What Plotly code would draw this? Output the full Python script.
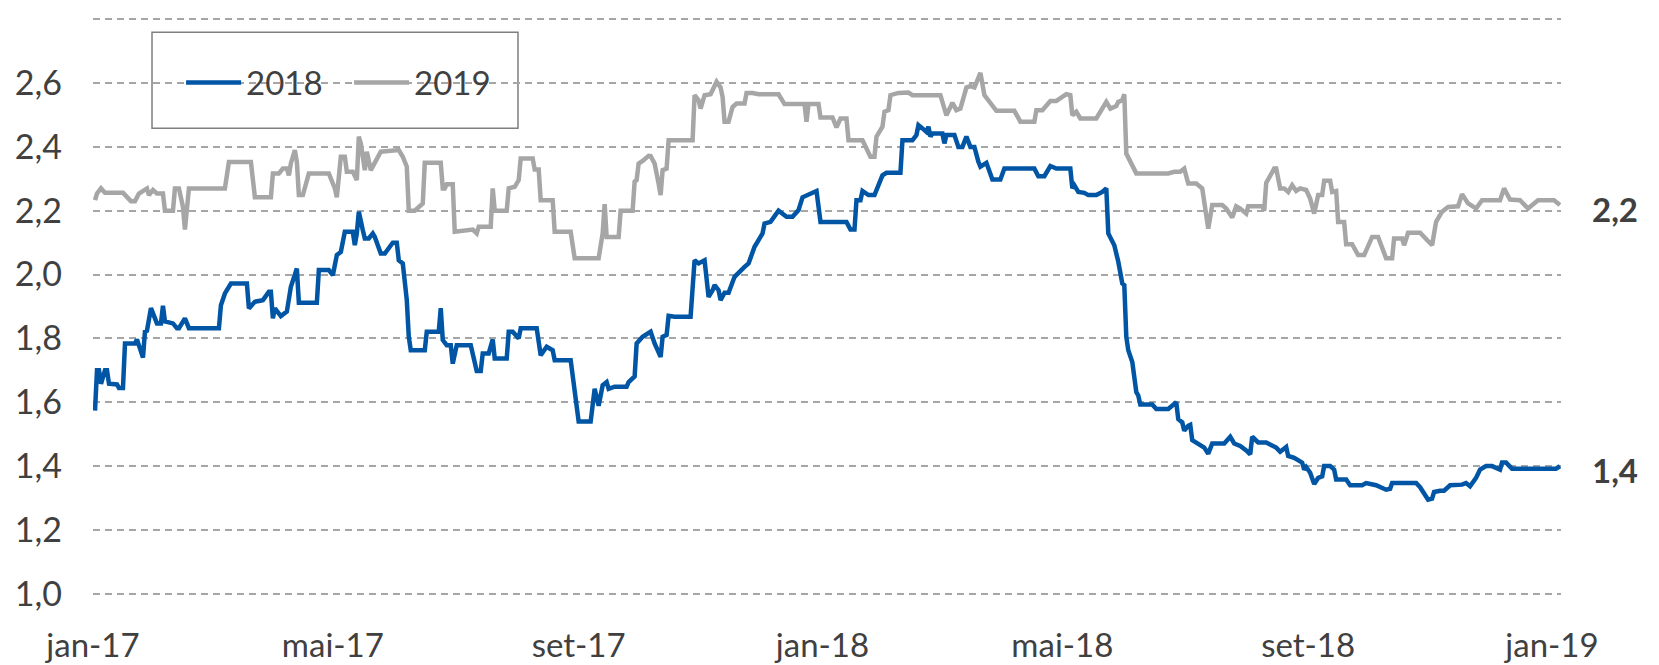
import pandas as pd
import plotly.graph_objects as go

# ---- data (days counted from 2017-01-01) ----
dias_2018 = [1, 2, 3, 4, 6, 7, 8, 12, 13, 15, 16, 21, 22, 24, 25, 26, 27, 29, 31, 32, 34, 35, 36, 40, 42, 43, 46, 48, 63, 64, 66, 69, 77, 78, 81, 85, 88, 89, 90, 91, 94, 97, 99, 102, 103, 112, 113, 118, 120, 121, 122, 124, 125, 126, 130, 131, 132, 133, 135, 136, 138, 140, 141, 144, 146, 150, 152, 153, 155, 157, 158, 159, 166, 167, 173, 174, 175, 177, 179, 180, 182, 189, 192, 194, 195, 198, 200, 201, 207, 208, 210, 213, 214, 222, 224, 227, 230,
             231, 239, 241, 243, 249, 251, 253, 255, 257, 258, 261, 267, 268, 271, 272, 275, 279, 281, 284, 285, 287, 288, 291, 299, 301, 303, 306, 308, 310, 311, 313, 314, 316, 318, 321, 324, 326, 328, 331, 333, 335, 336, 339, 343, 347, 350, 353, 355, 358, 362, 364, 377, 379, 381, 382, 384, 385, 388, 391, 395, 397, 404, 405, 410, 412, 413, 415, 417, 418, 419, 420, 425, 426, 427, 431, 433, 435, 437, 439, 441, 443, 444, 447, 450, 454, 456, 471, 473, 476, 479, 482, 489, 490, 491, 493, 496, 498, 500,
             502, 505, 507, 508, 511, 513, 515, 516, 517, 518, 520, 522, 523, 524, 530, 532, 538, 542, 543, 545, 546, 548, 549, 550, 552, 556, 558, 560, 566, 569, 571, 574, 577, 579, 580, 583, 587, 591, 592, 594, 596, 597, 598, 601, 605, 606, 607, 609, 611, 613, 615, 616, 619, 621, 622, 627, 629, 635, 637, 642, 647, 649, 650, 662, 664, 668, 670, 671, 674, 676, 679, 685, 687, 689, 692, 694, 697, 700, 704, 705, 707, 710, 732, 734]
valores_2018 = [1.574, 1.700, 1.700, 1.658, 1.700, 1.700, 1.658, 1.656, 1.645, 1.645, 1.784, 1.784, 1.797, 1.763, 1.740, 1.821, 1.824, 1.895, 1.868, 1.847, 1.847, 1.902, 1.853, 1.847, 1.832, 1.832, 1.863, 1.832, 1.832, 1.904, 1.941, 1.972, 1.972, 1.894, 1.915, 1.920, 1.946, 1.946, 1.863, 1.894, 1.870, 1.884, 1.962, 2.019, 1.912, 1.912, 2.014, 2.014, 1.998, 2.035, 2.061, 2.071, 2.108, 2.134, 2.134, 2.092, 2.129, 2.197, 2.139, 2.113, 2.113, 2.129, 2.118, 2.066, 2.066, 2.100, 2.100, 2.045, 2.035, 1.920, 1.805, 1.763, 1.763, 1.821, 1.821, 1.895, 1.795, 1.779, 1.779, 1.721, 1.779, 1.779, 1.698, 1.698, 1.753, 1.753, 1.797, 1.737, 1.737, 1.821, 1.821, 1.800, 1.832, 1.832, 1.747, 1.774, 1.763,
                1.732, 1.732, 1.647, 1.540, 1.540, 1.642, 1.589, 1.653, 1.663, 1.642, 1.649, 1.649, 1.663, 1.681, 1.784, 1.805, 1.821, 1.784, 1.742, 1.805, 1.811, 1.871, 1.868, 1.868, 2.045, 2.035, 2.045, 1.930, 1.951, 1.967, 1.951, 1.920, 1.943, 1.943, 1.993, 2.009, 2.024, 2.035, 2.087, 2.108, 2.129, 2.160, 2.165, 2.200, 2.181, 2.181, 2.202, 2.242, 2.249, 2.262, 2.165, 2.165, 2.141, 2.141, 2.233, 2.233, 2.262, 2.249, 2.249, 2.311, 2.319, 2.319, 2.421, 2.421, 2.437, 2.468, 2.458, 2.447, 2.463, 2.432, 2.442, 2.442, 2.411, 2.437, 2.437, 2.400, 2.400, 2.432, 2.400, 2.400, 2.353, 2.338, 2.350, 2.298, 2.298, 2.332, 2.332, 2.308, 2.308, 2.340, 2.332, 2.332, 2.270, 2.280, 2.259, 2.256, 2.249, 2.249,
                2.249, 2.259, 2.270, 2.129, 2.092, 2.040, 1.972, 1.967, 1.805, 1.763, 1.726, 1.632, 1.621, 1.593, 1.593, 1.579, 1.579, 1.600, 1.547, 1.537, 1.511, 1.526, 1.529, 1.481, 1.474, 1.458, 1.439, 1.471, 1.471, 1.492, 1.471, 1.463, 1.449, 1.437, 1.492, 1.474, 1.474, 1.460, 1.458, 1.445, 1.453, 1.460, 1.432, 1.426, 1.411, 1.389, 1.397, 1.379, 1.344, 1.363, 1.368, 1.400, 1.400, 1.389, 1.358, 1.358, 1.340, 1.340, 1.347, 1.340, 1.326, 1.329, 1.347, 1.347, 1.334, 1.295, 1.298, 1.319, 1.323, 1.323, 1.340, 1.342, 1.347, 1.337, 1.363, 1.389, 1.400, 1.400, 1.389, 1.411, 1.411, 1.392, 1.392, 1.400]

dias_2019 = [1, 2, 4, 6, 15, 19, 21, 23, 27, 28, 30, 32, 35, 36, 40, 41, 43, 45, 46, 48, 66, 68, 79, 81, 89, 90, 93, 95, 97, 98, 99, 101, 102, 103, 105, 108, 118, 121, 122, 124, 126, 127, 130, 132, 133, 134, 136, 137, 139, 141, 144, 153, 155, 157, 158, 161, 163, 165, 166, 174, 175, 176, 177, 180, 181, 190, 192, 193, 199, 200, 201, 207, 208, 211, 213, 214, 220, 221, 223, 224,
             230, 231, 239, 241, 253, 255, 256, 257, 263, 264, 270, 271, 272, 273, 275, 278, 279, 281, 283, 284, 285, 287, 288, 300, 301, 303, 304, 306, 309, 312, 314, 315, 316, 318, 320, 322, 326, 327, 330, 333, 343, 346, 356, 357, 358, 363, 364, 370, 372, 374, 377, 378, 385, 388, 389, 391, 392, 395, 396, 398, 399, 403, 408, 410, 424, 427, 430, 432, 434, 437, 439, 441, 444, 446, 449, 452, 461, 464, 471, 472, 475, 479, 482, 487, 489, 490, 492, 494, 500,
             502, 507, 509, 512, 513, 515, 516, 517, 520, 522, 538, 541, 544, 546, 548, 552, 555, 557, 558, 560, 565, 567, 570, 572, 574, 577, 578, 585, 586, 587, 591, 592, 594, 596, 598, 600, 602, 604, 607, 609, 611, 613, 615, 616, 619, 620, 622, 623, 626, 627, 630, 633, 636, 640, 643, 647, 650, 651, 655, 656, 658, 664, 670, 672, 675, 678, 683, 685, 688, 692, 695, 704, 706, 709, 714, 718, 723, 731, 734]
valores_2019 = [2.233, 2.254, 2.270, 2.256, 2.256, 2.230, 2.230, 2.254, 2.270, 2.249, 2.265, 2.254, 2.254, 2.200, 2.200, 2.270, 2.270, 2.212, 2.141, 2.270, 2.270, 2.353, 2.353, 2.242, 2.242, 2.317, 2.317, 2.332, 2.332, 2.311, 2.348, 2.390, 2.353, 2.249, 2.249, 2.317, 2.317, 2.270, 2.242, 2.369, 2.369, 2.322, 2.322, 2.296, 2.432, 2.411, 2.327, 2.385, 2.327, 2.348, 2.385, 2.390, 2.369, 2.338, 2.200, 2.200, 2.214, 2.223, 2.350, 2.350, 2.270, 2.270, 2.283, 2.283, 2.134, 2.141, 2.129, 2.150, 2.150, 2.270, 2.200, 2.200, 2.270, 2.275, 2.296, 2.364, 2.364, 2.329, 2.329, 2.233,
                2.233, 2.134, 2.134, 2.051, 2.051, 2.129, 2.221, 2.118, 2.118, 2.200, 2.200, 2.291, 2.296, 2.348, 2.356, 2.372, 2.371, 2.348, 2.285, 2.249, 2.327, 2.332, 2.421, 2.421, 2.562, 2.546, 2.520, 2.562, 2.565, 2.604, 2.586, 2.557, 2.479, 2.479, 2.525, 2.536, 2.536, 2.569, 2.569, 2.565, 2.565, 2.534, 2.534, 2.479, 2.534, 2.534, 2.492, 2.492, 2.461, 2.489, 2.489, 2.421, 2.421, 2.385, 2.369, 2.369, 2.432, 2.463, 2.510, 2.515, 2.562, 2.569, 2.570, 2.562, 2.562, 2.499, 2.538, 2.515, 2.520, 2.586, 2.590, 2.586, 2.632, 2.562, 2.536, 2.513, 2.513, 2.479, 2.479, 2.515, 2.515, 2.544, 2.544, 2.565, 2.562, 2.499, 2.510, 2.489, 2.489,
                2.489, 2.541, 2.520, 2.528, 2.541, 2.546, 2.565, 2.379, 2.338, 2.317, 2.317, 2.322, 2.322, 2.332, 2.285, 2.285, 2.270, 2.186, 2.144, 2.218, 2.218, 2.207, 2.179, 2.214, 2.207, 2.191, 2.214, 2.214, 2.200, 2.287, 2.332, 2.332, 2.270, 2.270, 2.259, 2.280, 2.262, 2.270, 2.265, 2.238, 2.191, 2.249, 2.249, 2.294, 2.294, 2.259, 2.262, 2.165, 2.165, 2.095, 2.095, 2.061, 2.061, 2.118, 2.118, 2.051, 2.051, 2.113, 2.113, 2.092, 2.131, 2.131, 2.092, 2.165, 2.197, 2.212, 2.214, 2.252, 2.223, 2.207, 2.233, 2.233, 2.270, 2.235, 2.233, 2.207, 2.233, 2.233, 2.218]

tick_datas = ["2017-01-01", "2017-05-01", "2017-09-01", "2018-01-01", "2018-05-01", "2018-09-01", "2019-01-01"]
tick_rotulos = ["jan-17", "mai-17", "set-17", "jan-18", "mai-18", "set-18", "jan-19"]

base = pd.Timestamp("2017-01-01")
x2018 = [(base + pd.Timedelta(days=d)).strftime("%Y-%m-%d") for d in dias_2018]
x2019 = [(base + pd.Timedelta(days=d)).strftime("%Y-%m-%d") for d in dias_2019]

AZUL = "#0055A4"
CINZA = "#A6A6A6"
TEXTO = "#404040"
FONTE = "Lato"

fig = go.Figure()
fig.add_trace(go.Scatter(x=x2018, y=valores_2018, mode="lines", name="2018",
                         line=dict(color=AZUL, width=4.5)))
fig.add_trace(go.Scatter(x=x2019, y=valores_2019, mode="lines", name="2019",
                         line=dict(color=CINZA, width=4.5)))

# end labels (last values)
rot_2019 = f"{valores_2019[-1]:.1f}".replace(".", ",")
rot_2018 = f"{valores_2018[-1]:.1f}".replace(".", ",")
fig.add_annotation(x=x2019[-1], y=valores_2019[-1], xref="x", yref="y", text="<b>" + rot_2019 + "</b>",
                   showarrow=False, xanchor="left", yanchor="middle", xshift=30, yshift=-4,
                   font=dict(family=FONTE, size=33, color=TEXTO))
fig.add_annotation(x=x2018[-1], y=valores_2018[-1], xref="x", yref="y", text="<b>" + rot_2018 + "</b>",
                   showarrow=False, xanchor="left", yanchor="middle", xshift=30, yshift=-4,
                   font=dict(family=FONTE, size=33, color=TEXTO))

# legend frame
fig.add_shape(type="rect", xref="paper", yref="paper", x0=0.0402, x1=0.2895, y0=0.807, y1=0.9721,
              line=dict(color="#7F7F7F", width=1.5), fillcolor="white", layer="below")

fig.update_layout(
    width=1659, height=665,
    margin=dict(l=93, r=98, t=16, b=68, autoexpand=False),
    paper_bgcolor="white", plot_bgcolor="white",
    separators=",.",
    font=dict(family=FONTE, size=33, color=TEXTO),
    showlegend=True,
    legend=dict(orientation="h", x=0.060, xanchor="left", y=0.8853, yanchor="middle",
                bgcolor="rgba(0,0,0,0)", borderwidth=0, itemwidth=55, entrywidth=98,
                font=dict(family=FONTE, size=33, color=TEXTO), traceorder="normal"),
    xaxis=dict(type="date", range=["2017-01-01", "2019-01-05 12:00"], showgrid=False, zeroline=False,
               showline=False, tickmode="array", tickvals=tick_datas, ticktext=tick_rotulos,
               ticks="", ticklabelstandoff=26, automargin=False,
               tickfont=dict(family=FONTE, size=33, color=TEXTO)),
    yaxis=dict(range=[0.99, 2.81], tick0=1.0, dtick=0.2, tickformat=".1f", showgrid=True,
               gridcolor="#A6A6A6", gridwidth=2, griddash="7px,5px", zeroline=False, showline=False,
               ticks="", ticklabelstandoff=30, automargin=False,
               tickfont=dict(family=FONTE, size=34, color=TEXTO)),
)

# remove the default 8px page margin so the 1659x665 figure fills the window exactly
fig.write_html("out.html", config={"displayModeBar": False},
               post_script="document.body.style.margin='0';document.body.style.overflow='hidden';")
